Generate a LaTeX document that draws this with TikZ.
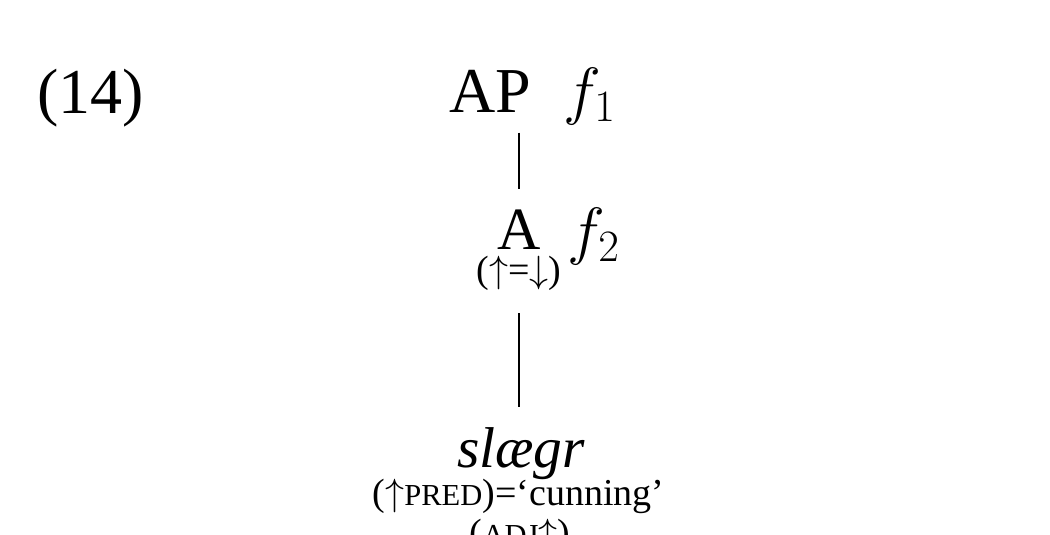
\documentclass[tikz,border=0pt]{standalone}
\usepackage{fix-cm}
\usepackage[no-math]{fontspec}
\setmainfont{Liberation Serif}
\usetikzlibrary{positioning}
\newcommand{\featsc}[1]{{\fontsize{12.2pt}{14pt}\selectfont #1}}

\begin{document}
\begin{tikzpicture}[x=0.4pt, y=-0.4pt,
  cat/.style={inner xsep=0pt, inner ysep=8pt, anchor=base,
              font=\fontsize{25.6pt}{30pt}\selectfont},
  fvar/.style={inner sep=0pt, anchor=base west,
               font=\fontsize{25.6pt}{30pt}\selectfont},
  ann/.style={inner xsep=0pt, inner ysep=9pt, anchor=base,
              font=\fontsize{15.2pt}{18pt}\selectfont},
  word/.style={inner xsep=0pt, inner ysep=8pt, anchor=base,
               font=\fontsize{23pt}{27pt}\selectfont\itshape},
  edge/.style={line width=0.9pt}
]
\clip (0,0) rectangle (1050,534);

\node[cat, anchor=base west] (num) at (37,113) {(14)};
\node[cat] (AP) at (490,112) {AP};
\node[fvar] (f1) at (563,112) {$f_1$};

\node[cat, font=\fontsize{24pt}{28pt}\selectfont] (A) at (519,249) {A};
\node[fvar] (f2) at (567,252) {$f_2$};
\node[ann] (Aeq) at (519,282) {($\uparrow$=$\downarrow$)};

\node[word] (slaegr) at (521,467) {slægr};
\node[ann] (pred) at (518.5,505) {($\uparrow$\featsc{PRED})=‘cunning’};
\node[ann] (adj) at (520,545) {(\featsc{ADJ}$\uparrow$)};

\draw[edge] (AP.south -| A.north) -- (A.north);
\draw[edge] (Aeq.south) -- (Aeq.south |- slaegr.north);
\end{tikzpicture}
\end{document}
